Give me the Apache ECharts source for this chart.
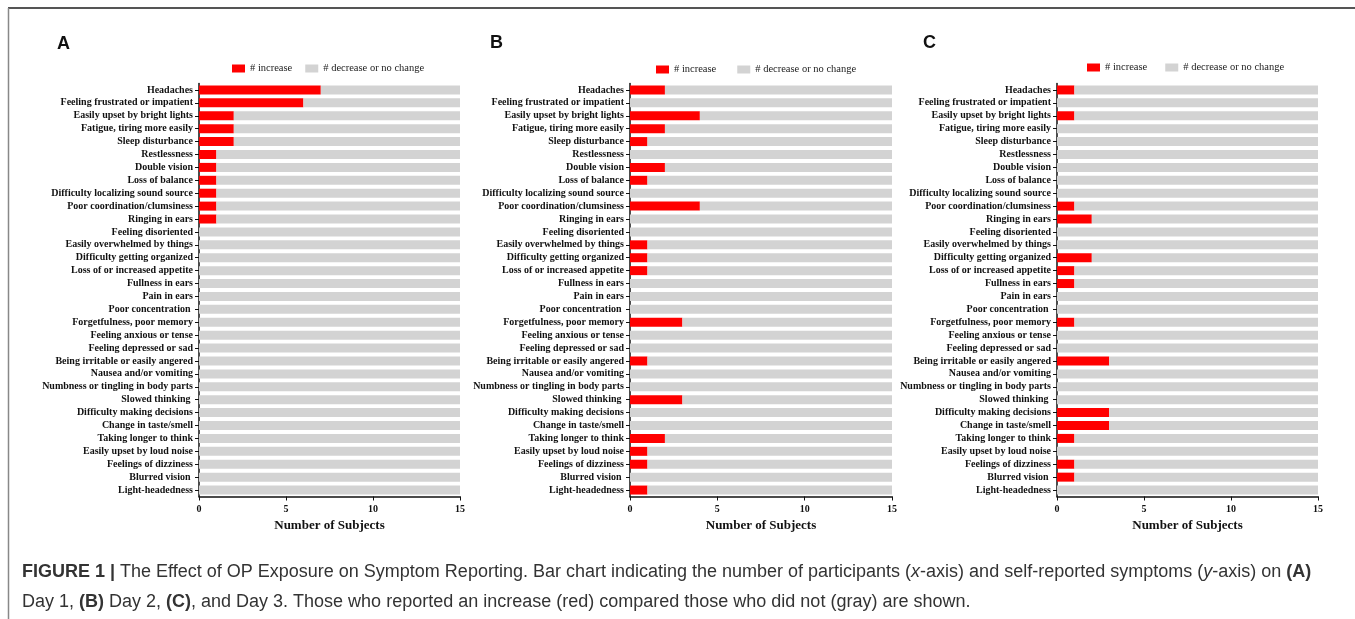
<!DOCTYPE html>
<html>
<head>
<meta charset="utf-8">
<script src="https://cdn.jsdelivr.net/npm/echarts@6/dist/echarts.min.js"></script>
<style>
  html, body { margin: 0; padding: 0; background: #fff; }
  #chart { width: 1355px; height: 619px; }
</style>
</head>
<body>
<div id="chart"></div>
<script>
const categories = [
  'Headaches', 'Feeling frustrated or impatient', 'Easily upset by bright lights',
  'Fatigue, tiring more easily', 'Sleep disturbance', 'Restlessness', 'Double vision',
  'Loss of balance', 'Difficulty localizing sound source', 'Poor coordination/clumsiness',
  'Ringing in ears', 'Feeling disoriented', 'Easily overwhelmed by things',
  'Difficulty getting organized', 'Loss of or increased appetite', 'Fullness in ears',
  'Pain in ears', 'Poor concentration ', 'Forgetfulness, poor memory',
  'Feeling anxious or tense', 'Feeling depressed or sad', 'Being irritable or easily angered',
  'Nausea and/or vomiting', 'Numbness or tingling in body parts', 'Slowed thinking ',
  'Difficulty making decisions', 'Change in taste/smell', 'Taking longer to think',
  'Easily upset by loud noise', 'Feelings of dizziness', 'Blurred vision ', 'Light-headedness'
]
// number of subjects reporting an increase, per day
const day1Increase = [7, 6, 2, 2, 2, 1, 1, 1, 1, 1, 1, 0, 0, 0, 0, 0, 0, 0, 0, 0, 0, 0, 0, 0, 0, 0, 0, 0, 0, 0, 0, 0]
const day2Increase = [2, 0, 4, 2, 1, 0, 2, 1, 0, 4, 0, 0, 1, 1, 1, 0, 0, 0, 3, 0, 0, 1, 0, 0, 3, 0, 0, 2, 1, 1, 0, 1]
const day3Increase = [1, 0, 1, 0, 0, 0, 0, 0, 0, 1, 2, 0, 0, 2, 1, 1, 0, 0, 1, 0, 0, 3, 0, 0, 0, 3, 3, 1, 0, 1, 1, 0]
const totalSubjects = 15
const panelLetters = ['A', 'B', 'C']
const xTicks = [0, 5, 10, 15]

const serif = 'Liberation Serif'
const sans = 'Liberation Sans'
const panels = [
  { data: day1Increase, left: 199, width: 261, legendLeft: 232, legendTop: 63, legendGap: 13, letterX: 57, letterY: 35 },
  { data: day2Increase, left: 630, width: 262, legendLeft: 656, legendTop: 64, legendGap: 21, letterX: 490, letterY: 34 },
  { data: day3Increase, left: 1057, width: 261, legendLeft: 1087, legendTop: 62, legendGap: 18, letterX: 923, letterY: 34 }
]

const grids = []
const xAxes = []
const yAxes = []
const series = []
const legends = []
const graphics = []

panels.forEach((p, i) => {
  grids.push({ left: p.left, width: p.width, top: 83.5, height: 413 })
  xAxes.push({
    gridIndex: i,
    type: 'value',
    min: xTicks[0],
    max: xTicks[xTicks.length - 1],
    interval: 5,
    name: 'Number of Subjects',
    nameLocation: 'middle',
    nameGap: 18,
    nameTextStyle: { fontFamily: serif, fontWeight: 'bold', fontSize: 13, color: '#111' },
    axisLine: { show: true, lineStyle: { color: '#111', width: 1.5 } },
    axisTick: { show: true, length: 4, lineStyle: { color: '#111' } },
    axisLabel: { fontFamily: serif, fontWeight: 'bold', fontSize: 10, color: '#111', margin: 8 },
    splitLine: { show: false }
  })
  yAxes.push({
    gridIndex: i,
    type: 'category',
    inverse: true,
    data: categories,
    axisLine: { show: true, lineStyle: { color: '#111', width: 1.5 } },
    axisTick: { show: true, alignWithLabel: true, length: 4, lineStyle: { color: '#111' } },
    axisLabel: { fontFamily: serif, fontWeight: 'bold', fontSize: 10, color: '#111', margin: 6, interval: 0 }
  })
  series.push({
    name: '# increase',
    type: 'bar',
    stack: 'p' + i,
    xAxisIndex: i,
    yAxisIndex: i,
    barWidth: 9,
    itemStyle: { color: '#ff0000' },
    data: p.data
  })
  series.push({
    name: '# decrease or no change',
    type: 'bar',
    stack: 'p' + i,
    xAxisIndex: i,
    yAxisIndex: i,
    barWidth: 9,
    itemStyle: { color: '#d3d3d3' },
    data: p.data.map(v => totalSubjects - v)
  })
  legends.push({
    left: p.legendLeft,
    top: p.legendTop,
    padding: 0,
    itemWidth: 13,
    itemHeight: 8,
    itemGap: p.legendGap,
    icon: 'rect',
    selectedMode: false,
    data: ['# increase', '# decrease or no change'],
    textStyle: { fontFamily: serif, fontSize: 10.5, color: '#222' }
  })
  graphics.push({
    type: 'text',
    left: p.letterX,
    top: p.letterY,
    style: { text: panelLetters[i], font: 'bold 18px "Liberation Sans"', fill: '#111' }
  })
})

// figure frame
graphics.push({ type: 'line', shape: { x1: 8, y1: 8, x2: 1355, y2: 8 }, style: { stroke: '#555', lineWidth: 2 } })
graphics.push({ type: 'line', shape: { x1: 8.5, y1: 8, x2: 8.5, y2: 619 }, style: { stroke: '#888', lineWidth: 1.5 } })

// caption
const captionRich = {
  b: { fontFamily: sans, fontWeight: 'bold', fontSize: 18, fill: '#333' },
  i: { fontFamily: sans, fontStyle: 'italic', fontSize: 18, fill: '#333' }
}
graphics.push({
  type: 'text',
  left: 22,
  top: 563,
  style: {
    text: '{b|FIGURE 1 |} The Effect of OP Exposure on Symptom Reporting. Bar chart indicating the number of participants ({i|x}-axis) and self-reported symptoms ({i|y}-axis) on {b|(A)}',
    font: '18px "Liberation Sans"',
    fill: '#333',
    rich: captionRich
  }
})
graphics.push({
  type: 'text',
  left: 22,
  top: 593,
  style: {
    text: 'Day 1, {b|(B)} Day 2, {b|(C)}, and Day 3. Those who reported an increase (red) compared those who did not (gray) are shown.',
    font: '18px "Liberation Sans"',
    fill: '#333',
    rich: captionRich
  }
})

const chart = echarts.init(document.getElementById('chart'))
chart.setOption({
  animation: false,
  grid: grids,
  xAxis: xAxes,
  yAxis: yAxes,
  legend: legends,
  series: series,
  graphic: graphics
})
</script>
</body>
</html>
